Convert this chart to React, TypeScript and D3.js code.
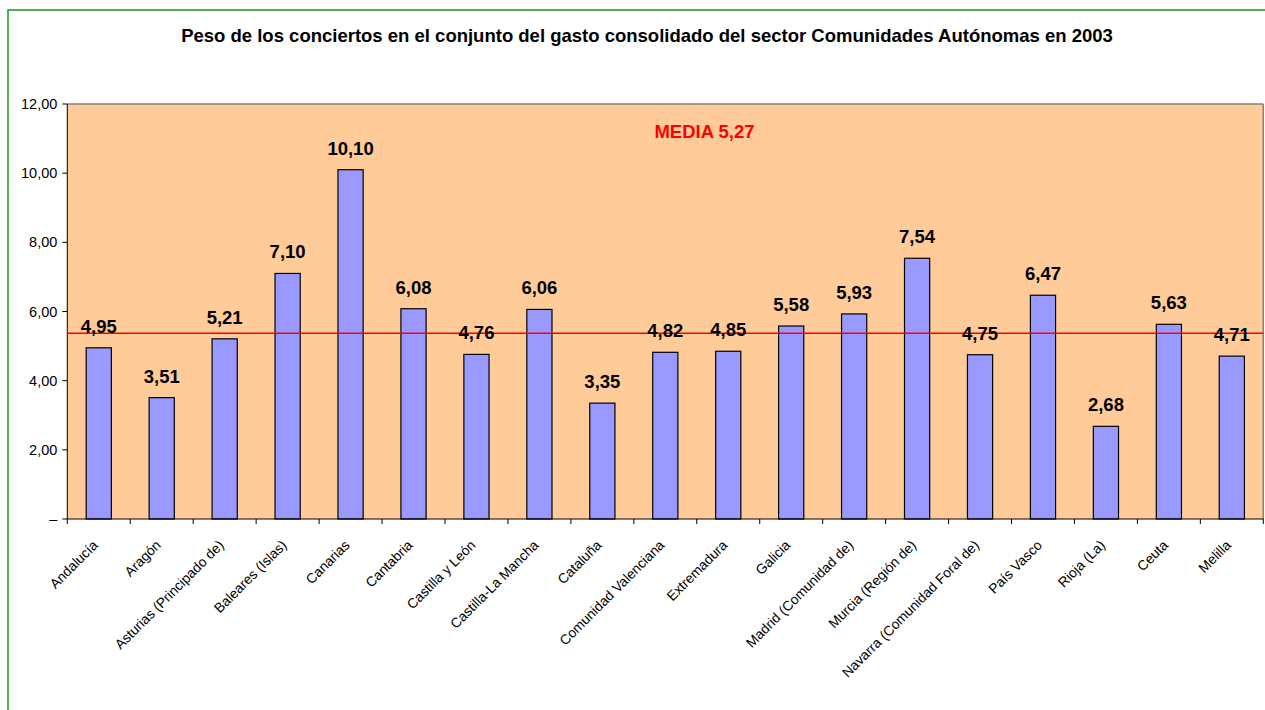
import React from "react";
import * as d3 from "d3";

const title =
  "Peso de los conciertos en el conjunto del gasto consolidado del sector Comunidades Autónomas en 2003";

const categories = [
  "Andalucía",
  "Aragón",
  "Asturias (Principado de)",
  "Baleares (Islas)",
  "Canarias",
  "Cantabria",
  "Castilla y León",
  "Castilla-La Mancha",
  "Cataluña",
  "Comunidad Valenciana",
  "Extremadura",
  "Galicia",
  "Madrid (Comunidad de)",
  "Murcia (Región de)",
  "Navarra (Comunidad Foral de)",
  "País Vasco",
  "Rioja (La)",
  "Ceuta",
  "Melilla",
];

const values = [
  4.95, 3.51, 5.21, 7.1, 10.1, 6.08, 4.76, 6.06, 3.35, 4.82, 4.85, 5.58, 5.93,
  7.54, 4.75, 6.47, 2.68, 5.63, 4.71,
];

const yTicks = [0, 2, 4, 6, 8, 10, 12];
const mediaLabel = "MEDIA 5,27";
const mediaLineValue = 5.37;

const fmt = (v: number) => (v === 0 ? "–" : v.toFixed(2).replace(".", ","));

export default function App() {
  const W = 1265;
  const H = 710;
  const left = 67.3;
  const right = 1263.3;
  const top = 104;
  const bottom = 519;

  const x = d3.scaleBand<string>().domain(categories).range([left, right]).paddingInner(0).paddingOuter(0);
  const y = d3.scaleLinear().domain([0, 12]).range([bottom, top]);
  const bw = x.bandwidth() * 0.4;
  const font = "'Liberation Sans', Arial, sans-serif";

  return (
    <svg
      width={W}
      height={H}
      style={{ position: "absolute", left: 0, top: 0 }}
      fontFamily={font}
    >
      <rect x={0} y={0} width={W} height={H} fill="#ffffff" />
      <rect x={8} y={10} width={W + 20} height={H + 20} fill="none" stroke="#2f9a2f" strokeWidth={1.6} />
      <text x={647} y={42} textAnchor="middle" fontSize={18.5} fontWeight="bold" fill="#000">
        {title}
      </text>

      {/* plot area */}
      <rect x={left} y={top} width={right - left} height={bottom - top} fill="#FFCC99" />
      <line x1={left} x2={right} y1={top} y2={top} stroke="#808080" strokeWidth={1.5} />
      <line x1={right} x2={right} y1={top} y2={bottom} stroke="#808080" strokeWidth={1.5} />

      {/* bars */}
      {categories.map((c, i) => {
        const cx = (x(c) as number) + x.bandwidth() / 2;
        return (
          <rect
            key={c}
            x={cx - bw / 2}
            y={y(values[i])}
            width={bw}
            height={bottom - y(values[i])}
            fill="#9999FF"
            stroke="#000"
            strokeWidth={1.2}
          />
        );
      })}

      {/* axes */}
      <line x1={left} x2={left} y1={top} y2={bottom} stroke="#000" strokeWidth={1} />
      <line x1={left} x2={right} y1={bottom} y2={bottom} stroke="#000" strokeWidth={1} />
      {yTicks.map((t) => (
        <g key={t}>
          <line x1={left - 5} x2={left} y1={y(t)} y2={y(t)} stroke="#000" />
          <text x={left - 10} y={y(t) + 5} textAnchor="end" fontSize={14.5} fill="#000">
            {fmt(t)}
          </text>
        </g>
      ))}
      {categories.map((c) => (
        <line key={c} x1={x(c) as number} x2={x(c) as number} y1={bottom} y2={bottom + 5} stroke="#000" />
      ))}
      <line x1={right} x2={right} y1={bottom} y2={bottom + 5} stroke="#000" />

      {/* x labels */}
      {categories.map((c) => {
        const cx = (x(c) as number) + x.bandwidth() / 2;
        return (
          <text
            key={c}
            transform={`translate(${cx + 0},${546}) rotate(-45)`}
            textAnchor="end"
            fontSize={13.8}
            fill="#000"
          >
            {c}
          </text>
        );
      })}

      {/* media line */}
      <line x1={left} x2={right} y1={y(mediaLineValue)} y2={y(mediaLineValue)} stroke="#FF0000" strokeWidth={1.5} />
      <text x={704.5} y={137.7} textAnchor="middle" fontSize={18.5} fontWeight="bold" fill="#FF0000">
        {mediaLabel}
      </text>

      {/* value labels */}
      {categories.map((c, i) => {
        const cx = (x(c) as number) + x.bandwidth() / 2;
        return (
          <text key={c} x={cx} y={y(values[i]) - 15} textAnchor="middle" fontSize={18.5} fontWeight="bold" fill="#000">
            {fmt(values[i])}
          </text>
        );
      })}
    </svg>
  );
}
